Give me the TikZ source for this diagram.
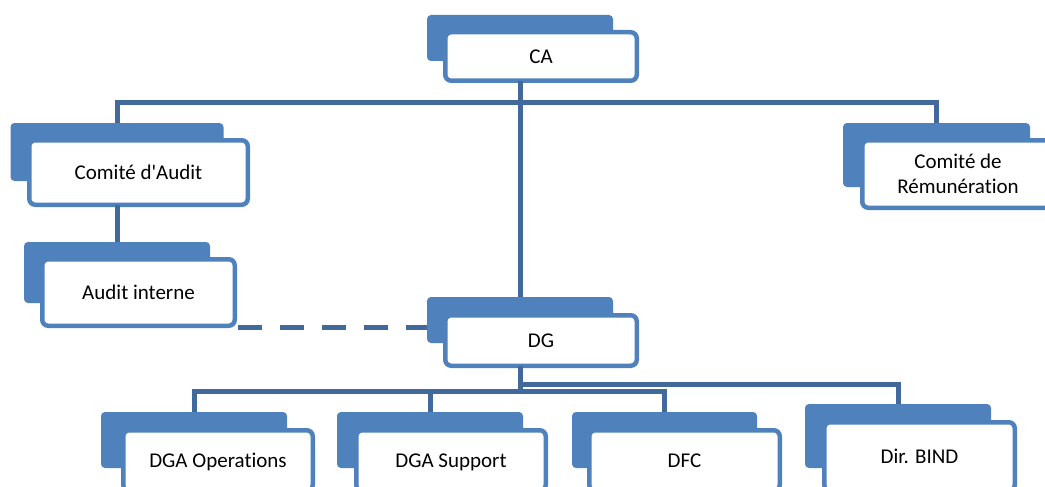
\documentclass[tikz,border=0pt]{standalone}
\usepackage{fontspec}
\setmainfont{Carlito}[Ligatures={TeXOff,NoCommon}]
\definecolor{boxblue}{HTML}{4F81BD}
\definecolor{lineblue}{HTML}{41699C}
\tikzset{
  backbox/.style={shape=rectangle,fill=boxblue,rounded corners=4pt,inner sep=0pt,outer sep=0pt},
  frontbox/.style={shape=rectangle,draw=boxblue,fill=white,line width=4.5pt,rounded corners=6pt,
    inner sep=0pt,outer sep=0pt,text height=15.5pt,text depth=2pt,font=\fontsize{21}{25.5}\selectfont},
  conn/.style={draw=lineblue,line width=5pt},
}

\begin{document}
\begin{tikzpicture}[x=1pt,y=-1pt]
    \useasboundingbox[fill=white] (0,0) rectangle (1045,487);
    \clip (0,0) rectangle (1045,487);
    % top level
    \node[backbox,minimum width=186,minimum height=46] (caB) at (520,38) {};
    \node[frontbox,minimum width=191.5,minimum height=48.5] (ca) at (541,56.5) {CA};
    \node[backbox,minimum width=213,minimum height=58] (auditB) at (117,152) {};
    \node[frontbox,minimum width=218.5,minimum height=64.5] (audit) at (138.5,172.5) {Comité d'Audit};
    \node[backbox,minimum width=187,minimum height=64] (remuB) at (936.5,155) {};
    \node[frontbox,minimum width=191.5,minimum height=67.5,align=center,text height=,text depth=] (remu) at (958,174) {Comité de\\Rémunération};
    \node[backbox,minimum width=186,minimum height=61] (interneB) at (117,272.5) {};
    \node[frontbox,minimum width=192.5,minimum height=66.5] (interne) at (138.5,292.5) {Audit interne};
    \node[backbox,minimum width=186,minimum height=46] (dgB) at (520,320) {};
    \node[frontbox,minimum width=191.5,minimum height=50.5] (dg) at (541,340.5) {DG};
    % directions
    \node[backbox,minimum width=186,minimum height=56] (dgaopB) at (194,440) {};
    \node[frontbox,minimum width=189.5,minimum height=60.5] (dgaop) at (218,460.5) {DGA Operations};
    \node[backbox,minimum width=186,minimum height=56] (dgasupB) at (430,440) {};
    \node[frontbox,minimum width=189.5,minimum height=60.5] (dgasup) at (451,460.5) {DGA Support};
    \node[backbox,minimum width=185,minimum height=56] (dfcB) at (664.5,440) {};
    \node[frontbox,minimum width=190.5,minimum height=60.5] (dfc) at (684.5,460.5) {DFC};
    \node[backbox,minimum width=186,minimum height=64] (bindB) at (898,436) {};
    \node[frontbox,minimum width=190.5,minimum height=68.5] (bind) at (919.5,456.5) {Dir. BIND};
    \coordinate (topbus) at (520,102.5);
    \coordinate (highbus) at (520,384);
    \coordinate (lowbus) at (520,391);
    \coordinate (dashstart) at ([shift={(3pt,-2pt)}]interne.south east);
    % links
    \draw[conn] (caB.center |- ca.south) -- (dgB.north);
    \draw[conn] (auditB.north) -- (auditB.north |- topbus) -- (remuB.north |- topbus) -- (remuB.north);
    \draw[conn] (auditB.center |- audit.south) -- (interneB.north);
    \draw[conn,dash pattern=on 24pt off 18pt] (dashstart) -- (dgB.west |- dashstart);
    \draw[conn] (dgB.center |- dg.south) -- (dgB.center |- lowbus);
    \draw[conn] (dgaopB.north) -- (dgaopB.north |- lowbus) -- (dfcB.north |- lowbus) -- (dfcB.north);
    \draw[conn] (dgasupB.north) -- (dgasupB.north |- lowbus);
    \draw[conn] (dgB.center |- highbus) -- (bindB.north |- highbus) -- (bindB.north);
\end{tikzpicture}
\end{document}
